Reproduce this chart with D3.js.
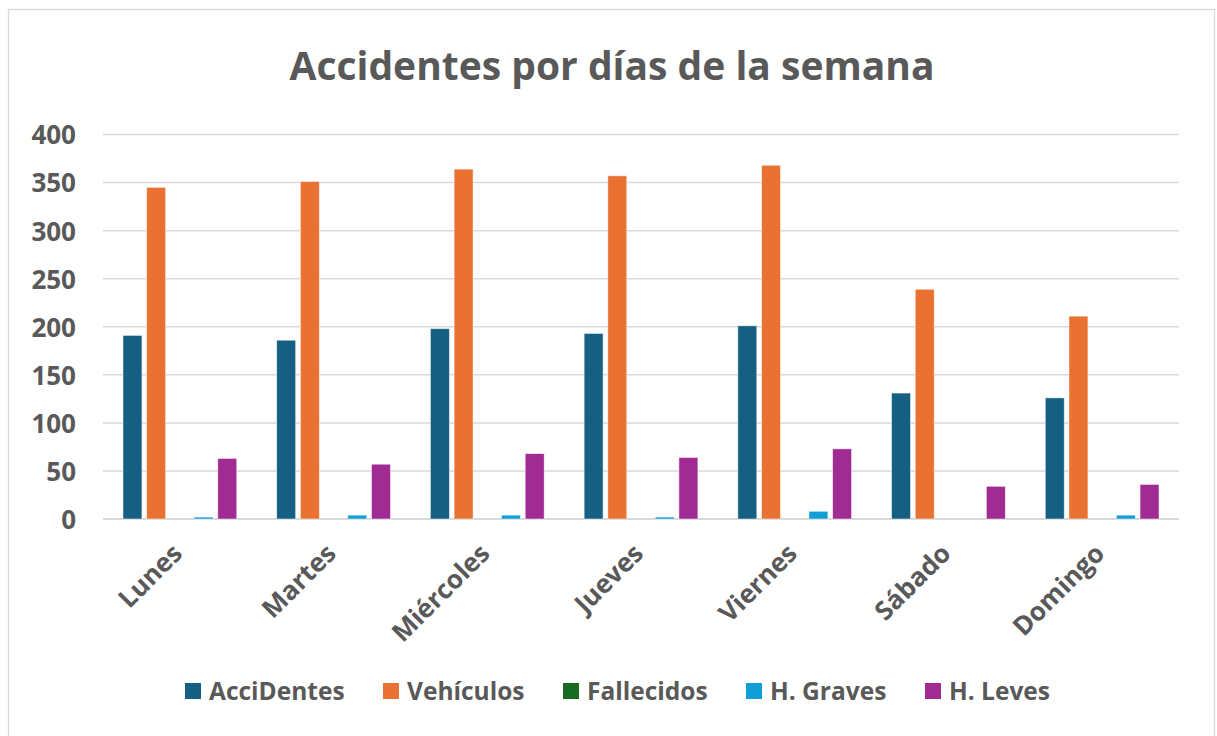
<!DOCTYPE html>
<html>
<head>
<meta charset="utf-8">
<script src="https://cdn.jsdelivr.net/npm/d3@7"></script>
<style>
  body { margin: 0; background: #fff; }
  text { font-family: "Open Sans", Lato, sans-serif; font-weight: bold; fill: #595959; }
</style>
</head>
<body>
<div id="chart"></div>
<script>
// data
const days = ['Lunes', 'Martes', 'Miércoles', 'Jueves', 'Viernes', 'Sábado', 'Domingo'];
const seriesNames = ['AcciDentes', 'Vehículos', 'Fallecidos', 'H. Graves', 'H. Leves'];
const accidentes = [191, 186, 198, 193, 201, 131, 126];
const vehiculos = [345, 351, 364, 357, 368, 239, 211];
const fallecidos = [0, 0, 0, 0, 0, 0, 0];
const graves = [2, 4, 4, 2, 8, 0, 4];
const leves = [63, 57, 68, 64, 73, 34, 36];
const yTicks = [0, 50, 100, 150, 200, 250, 300, 350, 400];
const colors = ['#156082', '#E97132', '#196B24', '#0F9ED5', '#A02B93'];

const allSeries = [accidentes, vehiculos, fallecidos, graves, leves];

const width = 1217, height = 736;
const margin = {top: 134.5, right: 38, bottom: 219, left: 103};

const svg = d3.select('#chart').append('svg')
  .attr('width', width)
  .attr('height', height);

// chart frame
svg.append('rect')
  .attr('x', 8.5).attr('y', 9.5)
  .attr('width', 1206).attr('height', 740)
  .attr('fill', 'none')
  .attr('stroke', '#d9d9d9')
  .attr('stroke-width', 1.3);

svg.append('text')
  .attr('x', 612).attr('y', 80)
  .attr('text-anchor', 'middle')
  .style('font-size', '39px')
  .text('Accidentes por días de la semana');

const x0 = d3.scaleBand()
  .domain(days)
  .range([margin.left, width - margin.right])
  .paddingInner(0.26)
  .paddingOuter(0.13);

const x1 = d3.scaleBand()
  .domain(seriesNames)
  .range([0, x0.bandwidth()])
  .padding(0.2)
  .paddingOuter(0);

const y = d3.scaleLinear()
  .domain([0, 400])
  .range([height - margin.bottom + 2, margin.top]);

// gridlines
svg.append('g')
  .selectAll('line')
  .data(yTicks)
  .enter().append('line')
  .attr('x1', margin.left)
  .attr('x2', width - margin.right)
  .attr('y1', d => y(d))
  .attr('y2', d => y(d))
  .attr('stroke', '#d9d9d9')
  .attr('stroke-width', d => d === 0 ? 2 : 1.5);

// y axis labels
const yAxis = g => g
  .attr('transform', `translate(${ margin.left - 27 },0)`)
  .call(d3.axisLeft(y).tickValues(yTicks).tickSize(0).tickPadding(0))
  .call(g => g.select('.domain').remove())
  .selectAll('text')
  .attr('dy', '0.36em')
  .style('font-size', '26px')
  .style('font-family', '"Open Sans", sans-serif')
  .style('fill', '#595959');

svg.append('g').call(yAxis);

// bars
const rows = days.map((day, i) => ({day, values: allSeries.map((s, k) => ({name: seriesNames[k], value: s[i], color: colors[k]}))}));

const group = svg.append('g')
  .selectAll('g')
  .data(rows)
  .enter().append('g')
  .attr('transform', d => `translate(${ x0(d.day) },0)`);

group.selectAll('rect')
  .data(d => d.values.filter(v => v.value > 0))
  .enter().append('rect')
  .attr('x', d => x1(d.name))
  .attr('y', d => y(d.value))
  .attr('width', x1.bandwidth())
  .attr('height', d => y(0) - y(d.value))
  .attr('fill', d => d.color)
  .attr('stroke', '#fff')
  .attr('stroke-opacity', 0.6)
  .attr('stroke-width', 0.8);

// x labels, rotated
svg.append('g')
  .selectAll('text')
  .data(days)
  .enter().append('text')
  .attr('text-anchor', 'end')
  .style('font-size', '26px')
  .attr('transform', d => `translate(${ x0(d) + x0.bandwidth() / 2 + 4 },${ y(0) + 36 }) rotate(-45)`)
  .text(d => d);

// legend
const legendX = [185, 383, 563, 746, 925];
const legend = svg.append('g')
  .selectAll('g')
  .data(seriesNames)
  .enter().append('g')
  .attr('transform', (d, i) => `translate(${ legendX[i] },691)`);

legend.append('rect')
  .attr('x', 0).attr('y', -8)
  .attr('width', 16).attr('height', 16)
  .attr('fill', (d, i) => colors[i]);

legend.append('text')
  .attr('x', 24).attr('y', 0)
  .attr('dy', '0.36em')
  .style('font-size', '24.5px')
  .text(d => d);
</script>
</body>
</html>
